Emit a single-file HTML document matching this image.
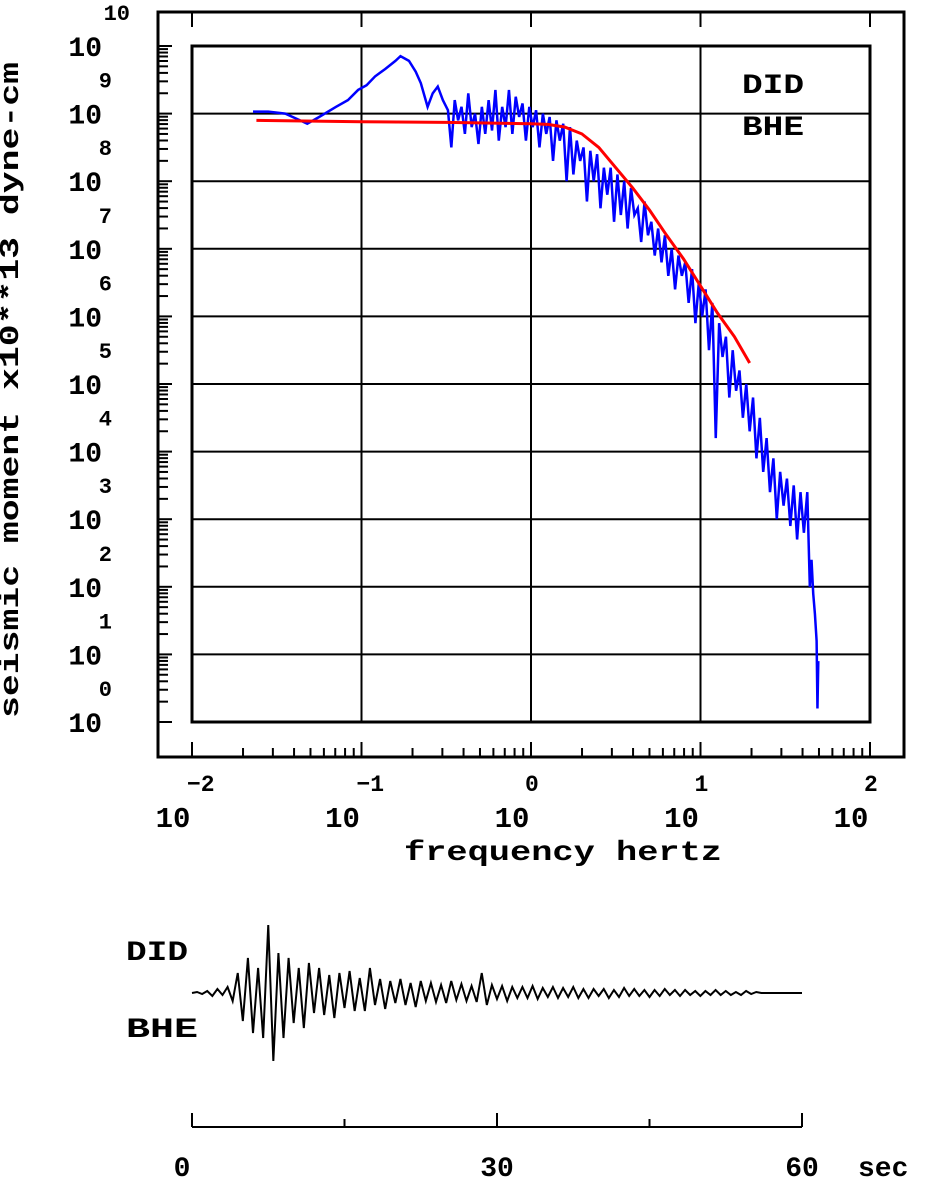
<!DOCTYPE html>
<html><head><meta charset="utf-8"><style>
html,body{margin:0;padding:0;background:#fff;}
svg{display:block;}
text{font-family:"Liberation Mono",monospace;font-weight:bold;fill:#000;}
</style></head><body>
<svg id="c" width="928" height="1184" viewBox="0 0 928 1184">
<g id="grid"></g>
<g id="axes"></g>
<g id="series"></g>
<g id="labels">
<text x="18" y="390" font-size="27" text-anchor="middle" textLength="656" lengthAdjust="spacingAndGlyphs" transform="rotate(-90 18 390)">seismic moment x10**13 dyne-cm</text>
<text x="563" y="860" font-size="28" text-anchor="middle" textLength="318" lengthAdjust="spacingAndGlyphs">frequency  hertz</text>
<text x="742" y="93" font-size="28" textLength="62" lengthAdjust="spacingAndGlyphs">DID</text>
<text x="742" y="135" font-size="28" textLength="62" lengthAdjust="spacingAndGlyphs">BHE</text>
<text x="126" y="960" font-size="28" textLength="62" lengthAdjust="spacingAndGlyphs">DID</text>
<text x="126" y="1037" font-size="28" textLength="72" lengthAdjust="spacingAndGlyphs">BHE</text>
</g>
<g id="seis"></g>
</svg>
<script>
const yExps=[0,1,2,3,4,5,6,7,8,9,10];
const xExps=[-2,-1,0,1,2];
const redF=[-1.62,-1.0,-0.5,0.0,0.1,0.2,0.3,0.4,0.5,0.6,0.7,0.8,0.9,1.0,1.1,1.2,1.29];
const redM=[8.9,8.88,8.87,8.85,8.84,8.8,8.7,8.5,8.2,7.9,7.57,7.2,6.85,6.45,6.05,5.7,5.31];
const blueF=[-1.64,-1.55,-1.45,-1.38,-1.32,-1.25,-1.15,-1.08,-1.02,-0.97,-0.92,-0.86,-0.80,-0.77,-0.72,-0.68,-0.65,-0.61,-0.58,-0.55,-0.52,-0.49,-0.47,-0.45,-0.43,-0.41,-0.39,-0.37,-0.35,-0.33,-0.31,-0.29,-0.27,-0.25,-0.23,-0.21,-0.19,-0.17,-0.15,-0.13,-0.11,-0.09,-0.07,-0.05,-0.03,-0.01,0.01,0.03,0.05,0.07,0.09,0.11,0.13,0.15,0.17,0.19,0.21,0.23,0.25,0.27,0.29,0.31,0.33,0.35,0.37,0.39,0.41,0.43,0.45,0.47,0.49,0.51,0.53,0.55,0.57,0.59,0.61,0.63,0.65,0.67,0.69,0.71,0.73,0.75,0.77,0.79,0.81,0.83,0.85,0.87,0.89,0.91,0.93,0.95,0.97,0.99,1.01,1.03,1.05,1.07,1.09,1.11,1.13,1.15,1.17,1.19,1.21,1.23,1.25,1.27,1.29,1.31,1.33,1.35,1.37,1.39,1.41,1.43,1.45,1.47,1.49,1.51,1.53,1.55,1.57,1.59,1.61,1.63,1.645,1.655,1.665,1.675,1.685,1.69,1.695];
const blueM=[9.03,9.03,9.0,8.92,8.85,8.95,9.1,9.2,9.35,9.42,9.55,9.66,9.78,9.85,9.78,9.62,9.45,9.1,9.3,9.4,9.2,9.05,8.5,9.2,8.9,9.1,8.7,9.3,8.8,9.0,8.55,9.1,8.7,9.2,8.75,9.35,8.6,9.1,8.8,9.35,8.7,9.25,8.95,9.15,8.6,9.1,8.8,9.05,8.5,9.0,8.7,8.95,8.3,8.9,8.6,8.85,8.0,8.8,8.1,8.6,8.3,8.5,7.7,8.45,8.0,8.4,7.6,8.2,7.8,8.2,7.4,8.1,7.5,8.0,7.3,7.9,7.5,7.6,7.1,7.7,7.2,7.4,6.9,7.3,6.8,7.2,6.6,7.0,6.4,6.9,6.6,6.8,6.2,6.7,5.9,6.5,6.0,6.4,5.5,6.2,4.2,5.9,5.4,5.7,4.8,5.5,4.9,5.2,4.5,5.0,4.3,4.8,3.9,4.5,3.7,4.2,3.4,3.9,3.0,3.7,3.2,3.6,2.9,3.5,2.7,3.4,2.8,3.4,2.0,2.4,1.9,1.6,1.2,0.2,0.9];
const seisAmp=[0,1,-1,2,-3,4,-2,6,-8,20,-28,35,-40,25,-45,68,-68,40,-45,35,-30,25,-35,30,-20,25,-22,18,-25,20,-15,22,-18,15,-18,25,-12,14,-16,12,-10,14,-12,10,-14,12,-8,10,-9,8,-10,12,-7,9,-8,7,-9,20,-12,8,-6,7,-8,6,-5,6,-5,7,-6,5,-4,6,-5,5,-4,6,-5,4,-5,4,-3,4,-5,3,-4,5,-3,4,-3,3,-4,3,-3,4,-2,3,-3,3,-2,2,-3,2,-2,3,-2,2,-2,1,-2,2,-1,1,0];
const seisDt=0.5, seisEnd=60;
const timeTicks=[0,15,30,45,60];
const timeLabels=["0","30","60"];

const NS="http://www.w3.org/2000/svg";
const X=lf=>192+(lf+2)*169.5;
const Y=lm=>722-lm*67.6;
function mk(tag,attrs,parent){const e=document.createElementNS(NS,tag);for(const k in attrs)e.setAttribute(k,attrs[k]);parent.appendChild(e);return e;}
const grid=document.getElementById('grid'),axes=document.getElementById('axes'),series=document.getElementById('series'),labels=document.getElementById('labels'),seis=document.getElementById('seis');

let f1=mk('rect',{x:158,y:12,width:746,height:745,fill:'none',stroke:'#000','stroke-width':3},axes);


let f2=mk('rect',{x:192,y:46,width:678,height:676,fill:'none',stroke:'#000','stroke-width':3},axes);



xExps.forEach(e=>{if(e>-2&&e<2){let l=mk('line',{x1:X(e),x2:X(e),y1:46,y2:722,stroke:'#000','stroke-width':2},grid);

}});
yExps.forEach(e=>{if(e>0&&e<10){let l=mk('line',{x1:192,x2:870,y1:Y(e),y2:Y(e),stroke:'#000','stroke-width':2},grid);

}});

xExps.forEach((e,i)=>{
  for(let m=1;m<=9;m++){ if(e===2&&m>1)break;
    const x=X(e+Math.log10(m)); const len=m===1?15:9;
    let t=mk('line',{x1:x,x2:x,y1:757,y2:757-len,stroke:'#000','stroke-width':2},axes);
    
    
    if(m===1){let t2=mk('line',{x1:x,x2:x,y1:12,y2:27,stroke:'#000','stroke-width':2},axes);
    
    }
  }
  let b=mk('text',{x:X(e)-19,y:827,'font-size':29,'text-anchor':'middle'},labels);b.textContent='10';
  
  
  let ex=mk('text',{x:X(e)-5+(e<0?0:0),y:791,'font-size':23,'text-anchor':'start'},labels);ex.textContent=(e<0?'\u2212':'')+Math.abs(e);
  if(e>=0) ex.setAttribute('x',X(e)-6);
  
  
});
yExps.forEach(e=>{
  for(let m=1;m<=9;m++){ if(e===10&&m>1)break;
    const y=Y(e+Math.log10(m)); const len=m===1?14:10;
    let t=mk('line',{x1:158,x2:158+len,y1:y,y2:y,stroke:'#000','stroke-width':2},axes);
    
    
  }
  let b=mk('text',{x:102,y:Y(e)+10,'font-size':28,'text-anchor':'end'},labels);b.textContent='10';
  
  
  let ex=mk('text',{x:e===10?130:112,y:Y(e)-26,'font-size':22,'text-anchor':'end'},labels);ex.textContent=String(e);
  
  
});

let bp=mk('polyline',{points:blueF.map((f,i)=>X(f)+','+Y(blueM[i])).join(' '),fill:'none',stroke:'#0000ff','stroke-width':2.5},series);


let rp=mk('polyline',{points:redF.map((f,i)=>X(f)+','+Y(redM[i])).join(' '),fill:'none',stroke:'#ff0000','stroke-width':3},series);



const TX=t=>192+t*(802-192)/60, base=993;
const pts=seisAmp.map((a,i)=>TX(i*seisDt)+','+(base-a));
pts.push(TX(seisEnd)+','+base);
let sp=mk('polyline',{points:pts.join(' '),fill:'none',stroke:'#000','stroke-width':2},seis);


let ta=mk('line',{x1:TX(0),x2:TX(60),y1:1127,y2:1127,stroke:'#000','stroke-width':2},seis);


timeTicks.forEach(t=>{const len=t%30===0?14:8;
  let l=mk('line',{x1:TX(t),x2:TX(t),y1:1127,y2:1127-len,stroke:'#000','stroke-width':2},seis);
  
  });
timeLabels.forEach(s=>{const t=+s;
  let l=mk('text',{x:TX(t)+(t===0?-10:0),y:1176,'font-size':28,'text-anchor':'middle'},seis);l.textContent=s;
  
  });
let sec=mk('text',{x:858,y:1176,'font-size':28},seis);sec.textContent='sec';


</script>
</body></html>
